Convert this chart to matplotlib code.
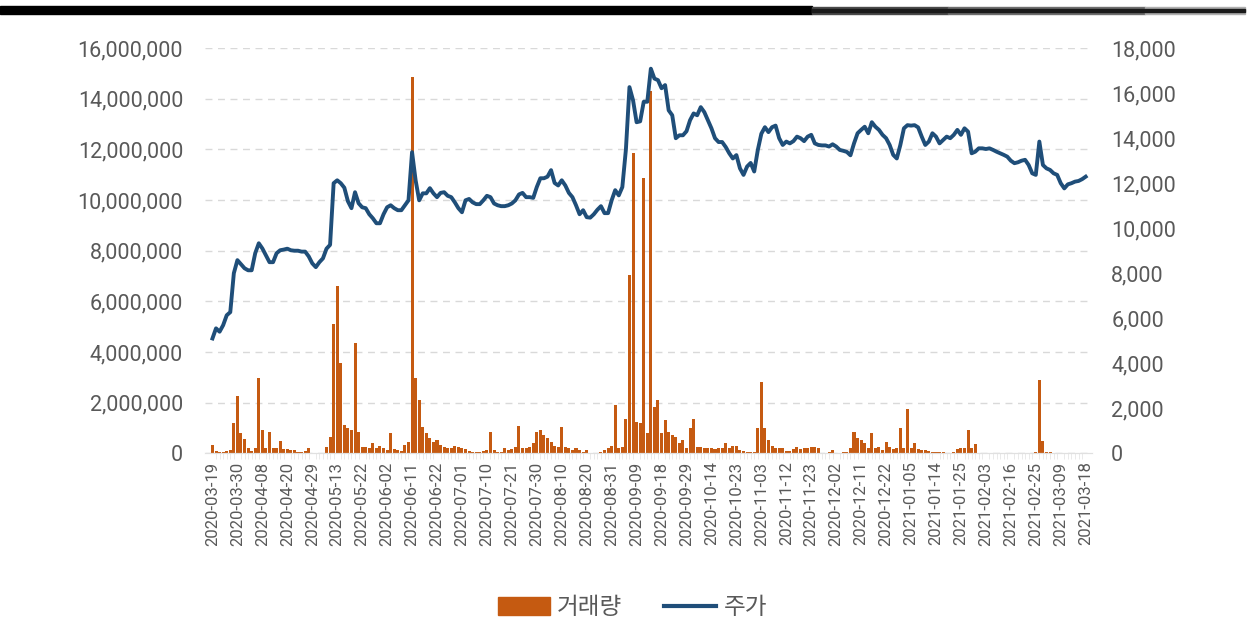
import matplotlib
matplotlib.use("Agg")
import matplotlib.pyplot as plt
from matplotlib.patches import Rectangle, Patch
from matplotlib.lines import Line2D
from matplotlib.ticker import FuncFormatter
import numpy as np
import pandas as pd

plt.rcParams['font.family'] = ['Roboto', 'Noto Sans CJK KR', 'DejaVu Sans']

# KRX market holidays inside the window
holidays = ["2020-04-15", "2020-04-30", "2020-05-01", "2020-05-05", "2020-08-17",
            "2020-09-30", "2020-10-01", "2020-10-02", "2020-10-09", "2020-12-25",
            "2020-12-31", "2021-01-01", "2021-02-11", "2021-02-12", "2021-03-01"]
dates = [d for d in pd.bdate_range("2020-03-19", "2021-03-18")
         if d.strftime("%Y-%m-%d") not in holidays]
date_labels = [d.strftime("%Y-%m-%d") for d in dates]

# 주가 (close price, KRW)
price = [
    5100, 5550, 5400, 5690, 6130, 6270, 8000, 8580, 8400, 8220,
    8130, 8130, 8890, 9330, 9100, 8800, 8490, 8490, 8890, 9020,
    9050, 9090, 9020, 9000, 9000, 8960, 8960, 8750, 8440, 8270,
    8490, 8660, 9090, 9260, 12000, 12130, 12000, 11800, 11200, 10890,
    11600, 11110, 10930, 10890, 10620, 10440, 10220, 10220, 10620, 10930,
    11020, 10890, 10800, 10800, 11020, 11240, 13380, 12130, 11240, 11550,
    11550, 11780, 11550, 11380, 11570, 11600, 11440, 11380, 11150, 10890,
    10710, 11240, 11300, 11150, 11070, 11070, 11240, 11440, 11380, 11100,
    11020, 10980, 10980, 11020, 11100, 11240, 11500, 11570, 11380, 11380,
    11350, 11830, 12220, 12220, 12290, 12580, 12010, 11900, 12130, 11900,
    11570, 11380, 11020, 10620, 10800, 10490, 10470, 10620, 10820, 10980,
    10670, 10670, 11240, 11690, 11460, 11830, 13500, 16270, 15690, 14710,
    14750, 15620, 15620, 17090, 16650, 16580, 16220, 16360, 15240, 15020,
    14000, 14130, 14130, 14310, 14800, 15100, 15020, 15380, 15160, 14800,
    14440, 14000, 13830, 13830, 13610, 13330, 13100, 13250, 12660, 12370,
    12740, 12900, 12520, 13470, 14200, 14490, 14270, 14490, 14560, 14000,
    13700, 13850, 13770, 13870, 14070, 14000, 13870, 14070, 14150, 13770,
    13700, 13680, 13680, 13630, 13730, 13630, 13480, 13440, 13390, 13240,
    13770, 14220, 14370, 14510, 14220, 14710, 14510, 14370, 14150, 14000,
    13700, 13260, 13100, 13700, 14440, 14580, 14560, 14580, 14480, 14070,
    13700, 13850, 14220, 14070, 13770, 13920, 14070, 14000, 14150, 14370,
    14150, 14440, 14290, 13330, 13400, 13550, 13550, 13520, 13550, 13480,
    13400, 13330, 13260, 13180, 13000, 12890, 12930, 13000, 13040, 12810,
    12440, 12370, 13850, 12810, 12660, 12590, 12440, 12370, 12000, 11770,
    11950, 12000, 12070, 12100, 12180, 12290,
]

# 거래량 (shares traded)
volume = [
    330000, 105000, 66000, 66000, 105000, 132000, 1200000, 2260000, 790000, 550000,
    200000, 105000, 200000, 2960000, 920000, 200000, 850000, 200000, 200000, 500000,
    158000, 158000, 132000, 132000, 66000, 66000, 105000, 220000, 26000, 26000,
    26000, 26000, 260000, 630000, 5100000, 6600000, 3580000, 1100000, 990000, 920000,
    4350000, 850000, 263000, 237000, 200000, 420000, 200000, 290000, 200000, 132000,
    790000, 158000, 132000, 105000, 330000, 460000, 14850000, 2960000, 2100000, 1050000,
    790000, 590000, 460000, 530000, 330000, 237000, 200000, 200000, 290000, 237000,
    200000, 158000, 105000, 66000, 66000, 66000, 105000, 132000, 850000, 132000,
    66000, 66000, 200000, 132000, 158000, 263000, 1080000, 200000, 200000, 263000,
    400000, 850000, 920000, 720000, 590000, 460000, 290000, 263000, 1050000, 263000,
    200000, 132000, 200000, 132000, 66000, 132000, 26000, 26000, 26000, 66000,
    132000, 200000, 290000, 1900000, 200000, 263000, 1350000, 7050000, 11850000, 1250000,
    1200000, 10860000, 790000, 14300000, 1840000, 2100000, 790000, 1300000, 850000, 720000,
    660000, 400000, 530000, 200000, 990000, 1350000, 263000, 237000, 200000, 200000,
    200000, 158000, 200000, 200000, 420000, 200000, 290000, 290000, 132000, 105000,
    66000, 66000, 66000, 990000, 2800000, 990000, 530000, 290000, 200000, 200000,
    200000, 105000, 105000, 158000, 237000, 158000, 200000, 200000, 237000, 237000,
    200000, 20000, 26000, 66000, 132000, 26000, 26000, 66000, 66000, 200000,
    820000, 590000, 530000, 400000, 200000, 790000, 200000, 263000, 132000, 460000,
    263000, 158000, 200000, 990000, 200000, 1740000, 200000, 420000, 158000, 132000,
    132000, 105000, 66000, 66000, 66000, 66000, 26000, 26000, 66000, 158000,
    200000, 200000, 920000, 200000, 370000, 26000, 26000, 26000, 15000, 15000,
    15000, 26000, 26000, 26000, 26000, 26000, 26000, 26000, 15000, 15000,
    26000, 66000, 2900000, 500000, 66000, 66000, 26000, 26000, 26000, 26000,
    10000, 10000, 10000, 10000, 10000, 10000,
]

bar_color = "#C55A11"
line_color = "#1F4E79"
text_color = "#595959"

fig = plt.figure(figsize=(12.52, 6.26), dpi=100)
ax = fig.add_axes([0.164, 0.276, 0.708, 0.647])
ax2 = ax.twinx()

x = np.arange(len(dates))
ax.bar(x, volume, width=0.85, color=bar_color, zorder=2)
ax2.plot(x, price, color=line_color, lw=2.8, zorder=3, solid_joinstyle="round")

ax.set_xlim(-2, len(dates) + 0.7)
ax.set_ylim(0, 16_000_000)
ax2.set_ylim(0, 18_000)
ax.set_yticks(np.arange(0, 16_000_001, 2_000_000))
ax2.set_yticks(np.arange(0, 18_001, 2_000))
fmt = FuncFormatter(lambda v, p: f"{int(v):,}")
ax.yaxis.set_major_formatter(fmt)
ax2.yaxis.set_major_formatter(fmt)

ax.grid(axis="y", color="#d9d9d9", ls=(0, (5, 4)), lw=1.0, zorder=0)
ax.set_axisbelow(True)

ax.set_xticks(x[::7])
ax.set_xticklabels(date_labels[::7], rotation=90, fontsize=12, color=text_color)
ax.set_xticks(x, minor=True)
ax.tick_params(axis="x", which="major", length=0, pad=6)
ax.tick_params(axis="x", which="minor", length=4, color="#e6e6e6", width=0.6)
ax.tick_params(axis="y", length=0, labelsize=15.5, labelcolor=text_color, pad=16)
ax2.tick_params(axis="y", length=0, labelsize=15.5, labelcolor=text_color, pad=14)

for a in (ax, ax2):
    for s in ("top", "left", "right"):
        a.spines[s].set_visible(False)
    a.spines["bottom"].set_color("#e0e0e0")

handles = [Patch(color=bar_color, label="거래량"),
           Line2D([], [], color=line_color, lw=3, label="주가")]
fig.legend(handles=handles, loc="center", bbox_to_anchor=(0.505, 0.029),
           ncol=2, frameon=False, labelcolor=text_color,
           prop={"family": ["Noto Sans CJK KR", "DejaVu Sans"], "size": 17},
           handlelength=2.2, handleheight=0.75, columnspacing=1.8, handletextpad=0.3)

# header rule across the top
H = 626.0
fig.patches.append(Rectangle((0, 1 - 14 / H), 812 / 1252, 8 / H,
                             transform=fig.transFigure, color="black"))
fig.patches.append(Rectangle((812 / 1252, 1 - 14 / H), 136 / 1252, 7 / H,
                             transform=fig.transFigure, color="#4a4a4a"))
fig.patches.append(Rectangle((948 / 1252, 1 - 14 / H), 197 / 1252, 7 / H,
                             transform=fig.transFigure, color="#6e6e6e"))
fig.patches.append(Rectangle((1145 / 1252, 1 - 14 / H), 100 / 1252, 7 / H,
                             transform=fig.transFigure, color="#b0b0b0"))
fig.patches.append(Rectangle((812 / 1252, 1 - 11.5 / H), 433 / 1252, 2 / H,
                             transform=fig.transFigure, color="#1a1a1a"))

fig.savefig("out.png", dpi=100)
